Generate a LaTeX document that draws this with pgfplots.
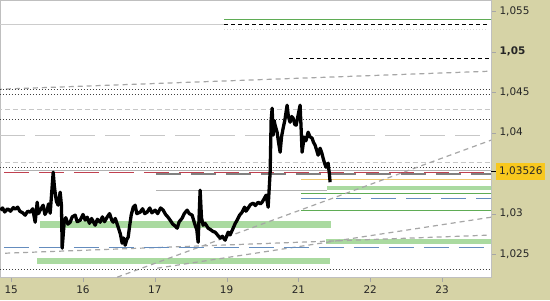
\documentclass[border=0pt]{standalone}
\usepackage{pgfplots}
\pgfplotsset{compat=1.18}
\usepackage{fontspec}
\setmainfont{DejaVu Sans}
\definecolor{panel}{RGB}{214,211,166}
\definecolor{bandg}{RGB}{170,218,160}
\definecolor{lineg}{RGB}{95,172,85}
\definecolor{redd}{RGB}{192,64,80}
\definecolor{blued}{RGB}{100,140,190}
\definecolor{orangel}{RGB}{240,200,110}
\definecolor{priceyellow}{RGB}{248,200,30}
\begin{document}
\begin{tikzpicture}[x=1bp,y=1bp]
\fill[panel] (0,-23) rectangle (550,277);
\begin{axis}[at={(0,0)}, anchor=south west, scale only axis,
  width=491bp, height=277bp,
  xmin=-0.153, xmax=6.682, ymin=1.02216, ymax=1.05636,
  axis background/.style={fill=white},
  axis line style={draw=black!25},
  xtick pos=bottom, ytick pos=right, yticklabel pos=right,
  tick align=outside, major tick length=5bp,
  tick style={black!35},
  xtick={0,1,2,3,4,5,6},
  xticklabels={15,16,17,19,21,22,23},
  ytick={1.025,1.03,1.04,1.045,1.05,1.055},
  yticklabels={1{,}025,1{,}03,1{,}04,1{,}045,\textbf{1{,}05},1{,}055},
  ticklabel style={font=\fontsize{10.5}{12}\selectfont, text=black!85},
  extra y ticks={1.03526},
  extra y tick labels={1{,}03526},
  extra y tick style={tick style={black, line width=1bp},
     yticklabel style={fill=priceyellow, inner xsep=3bp, inner ysep=4bp}},
  every axis plot/.append style={no marks},
]
% green bands
\addplot[bandg, line width=4.5bp] coordinates {(4.399,1.03314) (6.7,1.03314)};
\addplot[bandg, line width=7bp] coordinates {(0.404,1.02863) (4.455,1.02863)};
\addplot[bandg, line width=5bp] coordinates {(4.385,1.02653) (6.7,1.02653)};
\addplot[bandg, line width=6bp] coordinates {(0.362,1.02413) (4.441,1.02413)};
% top lines
\addplot[lineg, line width=1bp] coordinates {(2.965,1.05401) (6.7,1.05401)};
\addplot[black!20, line width=1bp] coordinates {(-0.2,1.05339) (2.965,1.05339)};
\addplot[black, line width=1.2bp, dash pattern=on 4bp off 3bp] coordinates {(2.965,1.05339) (6.64,1.05339)};
\addplot[black!15, line width=0.8bp, dash pattern=on 1bp off 2bp] coordinates {(2.965,1.0528) (6.64,1.0528)};
\addplot[black, line width=1.2bp, dash pattern=on 4bp off 3bp] coordinates {(3.87,1.0492) (6.7,1.0492)};
\addplot[black!35, line width=1.2bp, dash pattern=on 5bp off 4bp] coordinates {(-0.2,1.04535) (6.7,1.04760)};
\addplot[black!75, line width=1bp, dash pattern=on 1bp off 2bp] coordinates {(-0.2,1.04531) (6.7,1.04531)};
\addplot[black!75, line width=1bp, dash pattern=on 1bp off 2bp] coordinates {(-0.2,1.04475) (6.7,1.04475)};
\addplot[black!22, line width=1bp, dash pattern=on 5bp off 3bp] coordinates {(-0.2,1.0429) (6.7,1.0429)};
\addplot[black!75, line width=1bp, dash pattern=on 1bp off 2bp] coordinates {(-0.2,1.04166) (6.7,1.04166)};
\addplot[black!22, line width=1bp, dash pattern=on 25bp off 10bp] coordinates {(-0.153,1.03969) (6.53,1.03969)};
% middle lines
\addplot[black!22, line width=1bp, dash pattern=on 5bp off 3bp] coordinates {(-0.2,1.03635) (6.7,1.03635)};
\addplot[black!75, line width=1bp, dash pattern=on 1bp off 2bp] coordinates {(-0.2,1.03573) (6.7,1.03573)};
\addplot[black!30, line width=1bp] coordinates {(0.04,1.03536) (6.7,1.03536)};
\addplot[redd, line width=1.2bp, dash pattern=on 25bp off 10bp] coordinates {(-0.1,1.03512) (6.7,1.03512)};
\addplot[black!50, line width=2bp, dash pattern=on 25bp off 10bp] coordinates {(2.019,1.03487) (6.7,1.03487)};
\addplot[orangel, line width=1.2bp] coordinates {(4.037,1.03425) (6.7,1.03425)};
\addplot[black!30, line width=1bp] coordinates {(2.019,1.03289) (4.40,1.03289)};
\addplot[lineg, line width=1bp] coordinates {(4.037,1.03252) (6.7,1.03252)};
\addplot[blued, line width=1.2bp, dash pattern=on 25bp off 10bp] coordinates {(4.037,1.03191) (6.7,1.03191)};
\addplot[lineg, line width=1bp] coordinates {(4.037,1.03043) (6.7,1.03043)};
% sloping lines
\addplot[black!35, line width=1.2bp, dash pattern=on 5bp off 4bp] coordinates {(1.476,1.02215) (6.7,1.03913)};
\addplot[black!35, line width=1.2bp, dash pattern=on 5bp off 4bp] coordinates {(2.033,1.02326) (6.7,1.02958)};
\addplot[black!35, line width=1.2bp, dash pattern=on 5bp off 4bp] coordinates {(-0.084,1.02511) (6.64,1.02734)};
% lower lines
\addplot[blued, line width=1.2bp, dash pattern=on 25bp off 10bp] coordinates {(-0.1,1.02585) (6.7,1.02585)};
\addplot[black!75, line width=1bp, dash pattern=on 1bp off 2bp] coordinates {(-0.2,1.02314) (6.7,1.02314)};
% price
\addplot[black, line width=3.3bp, line join=round] coordinates {
(-0.153,1.03043) (-0.12,1.03070) (-0.09,1.03020) (-0.05,1.03060) (-0.01,1.03030)
(0.03,1.03075) (0.056,1.03055) (0.09,1.03080) (0.12,1.03030) (0.16,1.03010)
(0.195,1.02981) (0.23,1.03030) (0.265,1.03018) (0.30,1.03060) (0.334,1.02894)
(0.362,1.03141) (0.38,1.03000) (0.404,1.03043) (0.445,1.03104) (0.47,1.02990)
(0.501,1.03043) (0.52,1.03120) (0.543,1.03005) (0.585,1.03512) (0.60,1.03350)
(0.613,1.03252) (0.63,1.03150) (0.654,1.03104) (0.682,1.03265) (0.70,1.03100)
(0.710,1.02573) (0.738,1.02894) (0.76,1.02950) (0.79,1.02870) (0.821,1.02894)
(0.85,1.02960) (0.891,1.02981) (0.92,1.02900) (0.961,1.02919) (1.00,1.02990)
(1.03,1.02920) (1.058,1.02956) (1.09,1.02880) (1.12,1.02940) (1.169,1.02857)
(1.20,1.02930) (1.239,1.02894) (1.27,1.02960) (1.30,1.02900) (1.336,1.02956)
(1.37,1.03000) (1.40,1.02920) (1.420,1.02894) (1.45,1.02940) (1.490,1.02832)
(1.52,1.02750) (1.545,1.02635) (1.565,1.02700) (1.587,1.02610) (1.61,1.02680)
(1.629,1.02709) (1.65,1.02850) (1.671,1.02981) (1.70,1.03080) (1.726,1.03104)
(1.75,1.03000) (1.796,1.03018) (1.83,1.03060) (1.86,1.03000) (1.893,1.03018)
(1.93,1.03070) (1.96,1.03010) (2.005,1.03043) (2.04,1.03000) (2.08,1.03070)
(2.116,1.03043) (2.15,1.02990) (2.18,1.02960) (2.214,1.02919) (2.25,1.02870)
(2.28,1.02850) (2.311,1.02820) (2.34,1.02900) (2.381,1.02944) (2.41,1.03000)
(2.450,1.03043) (2.48,1.03000) (2.520,1.02981) (2.54,1.02920) (2.562,1.02857)
(2.585,1.02800) (2.603,1.02647) (2.631,1.03289) (2.65,1.02950) (2.673,1.02857)
(2.70,1.02880) (2.743,1.02820) (2.78,1.02800) (2.81,1.02780) (2.840,1.02771)
(2.87,1.02740) (2.910,1.02697) (2.94,1.02720) (2.979,1.02672) (3.00,1.02720)
(3.021,1.02771) (3.05,1.02740) (3.091,1.02820) (3.12,1.02880) (3.146,1.02919)
(3.18,1.02980) (3.216,1.03018) (3.25,1.03080) (3.27,1.03030) (3.299,1.03067)
(3.33,1.03110) (3.369,1.03129) (3.40,1.03100) (3.439,1.03141) (3.47,1.03120)
(3.494,1.03141) (3.52,1.03180) (3.550,1.03228) (3.578,1.03080) (3.606,1.03512)
(3.620,1.04154) (3.634,1.04302) (3.648,1.03969) (3.662,1.04150) (3.675,1.04092)
(3.703,1.04006) (3.72,1.03900) (3.745,1.03759) (3.765,1.03950) (3.787,1.04055)
(3.81,1.04150) (3.842,1.04339) (3.86,1.04200) (3.884,1.04129) (3.905,1.04200)
(3.926,1.04179) (3.95,1.04100) (3.968,1.04092) (3.996,1.04216) (4.023,1.04339)
(4.035,1.04100) (4.051,1.03759) (4.079,1.03944) (4.105,1.03900) (4.135,1.04006)
(4.16,1.03950) (4.190,1.03932) (4.21,1.03880) (4.232,1.03845) (4.255,1.03780)
(4.274,1.03722) (4.302,1.03808) (4.325,1.03750) (4.344,1.03685) (4.365,1.03620)
(4.385,1.03573) (4.413,1.03623) (4.430,1.03500) (4.441,1.03388)
};
\end{axis}
\path[use as bounding box] (0,-23) rectangle (550,277);
\end{tikzpicture}
\end{document}
